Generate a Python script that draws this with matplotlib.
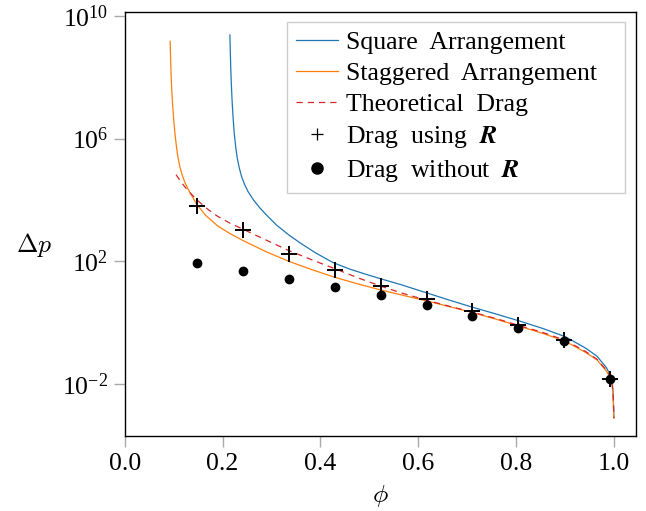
import matplotlib
matplotlib.use('Agg')
import matplotlib.pyplot as plt
from matplotlib.ticker import FixedLocator, NullLocator

# porosity vs pressure drop (dp given as log10)
square_phi = [0.2150, 0.2158, 0.2166, 0.2180, 0.2195, 0.2215, 0.2240, 0.2270, 0.2300, 0.2340,
              0.2390, 0.2450, 0.2520, 0.2630, 0.2760, 0.2900, 0.3100, 0.3350, 0.3580, 0.3900,
              0.4260, 0.4600, 0.4950, 0.5240, 0.5630, 0.6180, 0.6650, 0.7120, 0.7600, 0.8060,
              0.8550, 0.9010, 0.9420, 0.9650, 0.9840, 0.9950, 0.9980, 0.9995]
square_logdp = [9.38, 8.85, 8.35, 7.75, 7.22, 6.68, 6.15, 5.70, 5.36, 5.05,
                4.75, 4.50, 4.27, 4.00, 3.74, 3.50, 3.18, 2.86, 2.60, 2.27,
                1.95, 1.74, 1.56, 1.42, 1.24, 0.96, 0.72, 0.49, 0.27, 0.05,
                -0.20, -0.47, -0.84, -1.10, -1.47, -1.80, -2.30, -3.10]

stag_phi = [0.0930, 0.0934, 0.0940, 0.0948, 0.0958, 0.0970, 0.0985, 0.1005, 0.1028, 0.1060,
            0.1095, 0.1130, 0.1180, 0.1230, 0.1280, 0.1350, 0.1430, 0.1490, 0.1650, 0.1900,
            0.2150, 0.2420, 0.2900, 0.3360, 0.3830, 0.4300, 0.4760, 0.5230, 0.5700, 0.6180,
            0.6650, 0.7120, 0.7600, 0.8060, 0.8550, 0.9010, 0.9420, 0.9650, 0.9840, 0.9950,
            0.9980, 0.9995]
stag_logdp = [9.17, 8.85, 8.50, 8.10, 7.70, 7.35, 6.98, 6.55, 6.15, 5.70,
              5.33, 5.06, 4.78, 4.57, 4.40, 4.19, 3.97, 3.82, 3.50, 3.15,
              2.90, 2.67, 2.30, 1.99, 1.72, 1.47, 1.26, 1.06, 0.88, 0.70,
              0.51, 0.32, 0.10, -0.12, -0.36, -0.62, -0.98, -1.22, -1.58, -1.86,
              -2.35, -3.12]

theo_phi = [0.105, 0.113, 0.123, 0.133, 0.148, 0.170, 0.190, 0.215, 0.242, 0.290,
            0.336, 0.383, 0.430, 0.476, 0.524, 0.570, 0.618, 0.665, 0.712, 0.760,
            0.806, 0.855, 0.901, 0.942, 0.965, 0.984, 0.995, 0.998, 0.9995]
theo_logdp = [4.82, 4.63, 4.42, 4.24, 3.99, 3.69, 3.46, 3.24, 3.04, 2.68,
              2.34, 2.04, 1.75, 1.46, 1.18, 0.94, 0.72, 0.52, 0.33, 0.12,
              -0.10, -0.33, -0.59, -0.95, -1.20, -1.55, -1.84, -2.35, -3.12]

drag_phi = [0.148, 0.242, 0.336, 0.430, 0.523, 0.617, 0.710, 0.804, 0.898, 0.991]
drag_R = [6100, 1000, 175, 50, 15.5, 5.7, 2.3, 0.85, 0.27, 0.0148]
drag_noR = [89, 47, 27, 14.8, 7.6, 3.6, 1.68, 0.68, 0.24, 0.0138]

plt.rcParams['font.family'] = ['Liberation Serif', 'DejaVu Serif']
plt.rcParams['mathtext.fontset'] = 'cm'
plt.rcParams['font.size'] = 18.5

fig = plt.figure(figsize=(6.46, 5.11), dpi=100)
ax = fig.add_axes([0.193, 0.147, 0.791, 0.8295])

ax.plot(square_phi, [10**v for v in square_logdp], color='#1f77b4', lw=0.9,
        label='Square  Arrangement')
ax.plot(stag_phi, [10**v for v in stag_logdp], color='#ff7f0e', lw=0.9,
        label='Staggered  Arrangement   ')
ax.plot(theo_phi, [10**v for v in theo_logdp], color='#d62728', lw=0.9, ls=(0, (5, 4)),
        label='Theoretical  Drag')
ax.plot(drag_phi, drag_R, ls='none', marker='+', ms=11, mew=1.4, color='black',
        label=r'Drag  using  $\boldsymbol{R}$')
ax.plot(drag_phi, drag_noR, ls='none', marker='o', ms=6, color='black',
        label=r'Drag  without  $\boldsymbol{R}$')

ax.set_yscale('log')
ax.set_xlim(0, 1.044)
ax.set_ylim(10**-3.7, 10**10.127)
ax.yaxis.set_major_locator(FixedLocator([1e-2, 1e2, 1e6, 1e10]))
ax.yaxis.set_minor_locator(NullLocator())
ax.set_xticks([0.0, 0.2, 0.4, 0.6, 0.8, 1.0])
ax.set_xticklabels(['0.0', '0.2', '0.4', '0.6', '0.8', '1.0'])
ax.tick_params(direction='out', length=8, width=1, color='#aaaaaa', pad=4)

ax.set_xlabel(r'$\phi$', labelpad=6)
ax.set_ylabel(r'$\Delta p$', rotation=0, va='center')
ax.yaxis.set_label_coords(-0.177, 0.45)

for s in ax.spines.values():
    s.set_linewidth(1)

leg = ax.legend(loc='upper right', fancybox=False, edgecolor='#cccccc', framealpha=1,
                handlelength=1.65, handletextpad=0.3, borderpad=0.35, labelspacing=0.31,
                borderaxespad=0.4)
leg.get_frame().set_linewidth(1)
for t in leg.get_texts():
    t.set_math_fontfamily('stix')
# smaller markers in the legend, as in the original
leg.legend_handles[3].set_markersize(8)
leg.legend_handles[3].set_markeredgewidth(0.9)
leg.legend_handles[4].set_markersize(8)

fig.savefig('out.png')
